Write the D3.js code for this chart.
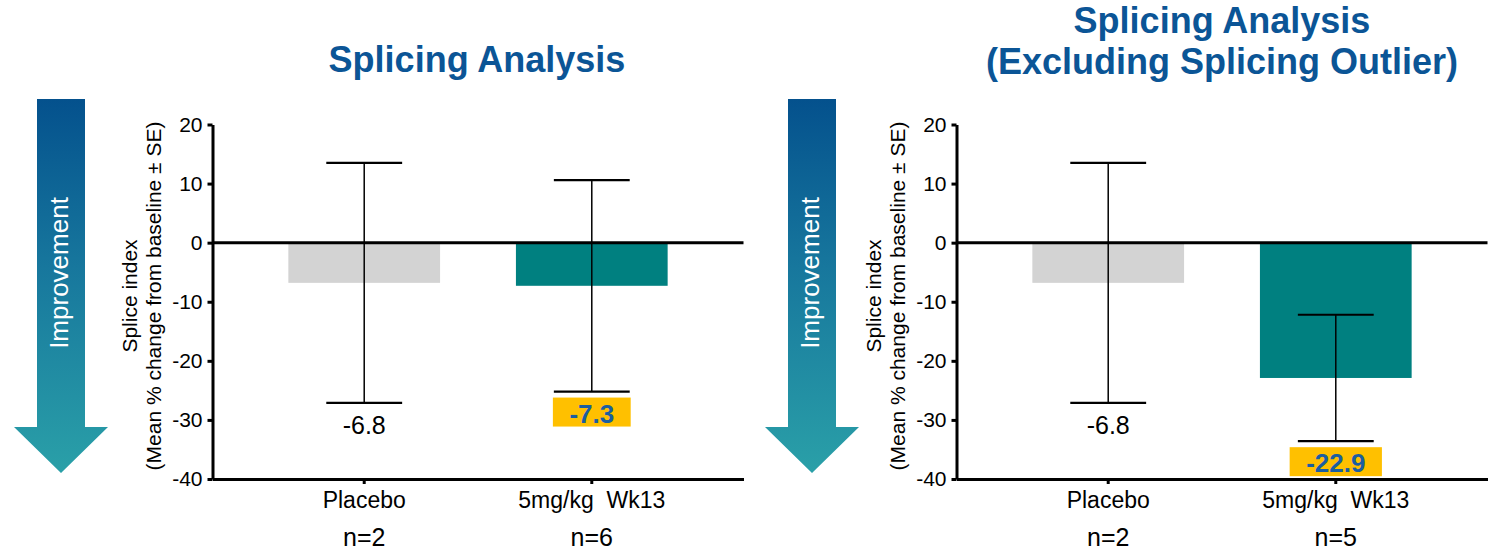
<!DOCTYPE html>
<html><head><meta charset="utf-8">
<script src="https://cdn.jsdelivr.net/npm/d3@7"></script>
<style>
body{margin:0;background:#fff}
svg{display:block}
text{font-family:Arial,"Liberation Sans",sans-serif}
</style>
</head><body><svg id="c" width="1501" height="550"></svg>
<script>
// ---- data ----
const categories = ["Placebo", "5mg/kg  Wk13"];
const leftMeans = [-6.8, -7.3];
const leftSE = [20.3, 17.9];
const leftN = ["n=2", "n=6"];
const rightMeans = [-6.8, -22.9];
const rightSE = [20.3, 10.7];
const rightN = ["n=2", "n=5"];
const highlight = [false, true];
const yTicks = [20, 10, 0, -10, -20, -30, -40];
const leftTitle = ["Splicing Analysis"];
const rightTitle = ["Splicing Analysis", "(Excluding Splicing Outlier)"];
const arrowLabel = "Improvement";
const yLabel = ["Splice index", "(Mean % change from baseline \u00B1 SE)"];

// ---- layout ----
const svg = d3.select("#c");
const defs = svg.append("defs");
const grad = defs.append("linearGradient").attr("id", "arrowGrad")
  .attr("x1", 0).attr("y1", 0).attr("x2", 0).attr("y2", 1);
grad.append("stop").attr("offset", "0%").attr("stop-color", "#04518d");
grad.append("stop").attr("offset", "45%").attr("stop-color", "#17779d");
grad.append("stop").attr("offset", "100%").attr("stop-color", "#2aa0a8");

const titleColor = "#0b5596";
const y = d3.scaleLinear().domain([-40, 20]).range([479, 124.5]);

const panels = [
  {x0: 212.5, x1: 743.5, means: leftMeans, se: leftSE, n: leftN, arrowCx: 61, titleCx: 477, title: leftTitle, titleBase: [71.5]},
  {x0: 956.5, x1: 1487.5, means: rightMeans, se: rightSE, n: rightN, arrowCx: 812, titleCx: 1222, title: rightTitle, titleBase: [33, 73.5]}
];

panels.forEach(p => {
  const g = svg.append("g");
  const x = d3.scaleBand().domain(categories).range([p.x0, p.x1])
    .paddingInner(1/3).paddingOuter(1/3);
  const bw = x.bandwidth();

  // title
  p.title.forEach((t, i) => {
    g.append("text").attr("x", p.titleCx).attr("y", p.titleBase[i])
      .attr("text-anchor", "middle").attr("font-size", 36).attr("font-weight", "bold")
      .attr("fill", titleColor)
      .text(t);
  });

  // improvement arrow
  const cx = p.arrowCx, sw = 24, hw = 47, top = 99, headY = 427, tip = 473;
  g.append("path")
    .attr("d", `M${cx - sw},${top}L${cx + sw},${top}L${cx + sw},${headY}L${cx + hw},${headY}L${cx},${tip}L${cx - hw},${headY}L${cx - sw},${headY}Z`)
    .attr("fill", "url(#arrowGrad)");
  g.append("text").attr("transform", `translate(${cx + 7},273) rotate(-90)`)
    .attr("text-anchor", "middle").attr("font-size", 26).attr("fill", "#fff")
    .text(arrowLabel);

  // y axis label
  const yl = g.append("text").attr("transform", `translate(${p.x0 - 75.5},296) rotate(-90)`)
    .attr("text-anchor", "middle").attr("font-size", 21).attr("fill", "#000");
  yl.append("tspan").attr("x", 0).attr("y", 0).text(yLabel[0]);
  yl.append("tspan").attr("x", 0).attr("y", 24).text(yLabel[1]);

  // bars
  const data = categories.map((c, i) => ({c, m: p.means[i], se: p.se[i], n: p.n[i], hl: highlight[i]}));
  g.selectAll("rect.bar").data(data).join("rect").attr("class", "bar")
    .attr("x", d => x(d.c)).attr("width", bw)
    .attr("y", y(0)).attr("height", d => y(d.m) - y(0))
    .attr("fill", (d, i) => i === 0 ? "#d3d3d3" : "#008080");

  // y axis
  const ya = g.append("g").attr("transform", `translate(${p.x0},0)`)
    .call(d3.axisLeft(y).tickValues(yTicks).tickFormat(d => String(d)).tickSize(5).tickSizeOuter(0).tickPadding(5));
  ya.select(".domain").attr("stroke-width", 3);
  ya.selectAll(".tick line").attr("stroke-width", 3);
  ya.selectAll(".tick text").attr("font-size", 21).attr("fill", "#000")
    .style("font-family", "Arial, 'Liberation Sans', sans-serif");

  // x axis
  const xa = g.append("g").attr("transform", `translate(0,${y(-40)})`)
    .call(d3.axisBottom(x).tickSize(5).tickSizeOuter(0).tickFormat(""));
  xa.select(".domain").attr("stroke-width", 3);
  xa.selectAll(".tick line").attr("stroke-width", 3);

  // zero line
  g.append("line").attr("x1", p.x0).attr("x2", p.x1).attr("y1", y(0)).attr("y2", y(0))
    .attr("stroke", "#000").attr("stroke-width", 3);

  // error bars
  const eb = g.selectAll("g.eb").data(data).join("g").attr("class", "eb");
  eb.append("line").attr("x1", d => x(d.c) + bw / 2).attr("x2", d => x(d.c) + bw / 2)
    .attr("y1", d => y(d.m + d.se)).attr("y2", d => y(d.m - d.se))
    .attr("stroke", "#000").attr("stroke-width", 1.5);
  [1, -1].forEach(s => {
    eb.append("line").attr("x1", d => x(d.c) + bw / 4).attr("x2", d => x(d.c) + 3 * bw / 4)
      .attr("y1", d => y(d.m + s * d.se)).attr("y2", d => y(d.m + s * d.se))
      .attr("stroke", "#000").attr("stroke-width", 2.2);
  });

  // value labels
  data.forEach(d => {
    const tx = x(d.c) + bw / 2, ty = y(d.m - d.se) + 31;
    if (d.hl) {
      const box = g.append("rect");
      const t = g.append("text").attr("x", tx).attr("y", ty).attr("text-anchor", "middle")
        .attr("font-size", 26).attr("font-weight", "bold").attr("fill", "#1b5ea0")
        .text(d.m.toFixed(1));
      const bb = t.node().getBBox();
      box.attr("x", bb.x - 16.5).attr("width", bb.width + 33)
        .attr("y", ty - 25).attr("height", 29).attr("fill", "#ffc000");
    } else {
      g.append("text").attr("x", tx).attr("y", ty).attr("text-anchor", "middle")
        .attr("font-size", 25).attr("fill", "#000").text(d.m.toFixed(1));
    }
  });

  // category labels and n
  g.selectAll("text.cat").data(data).join("text").attr("class", "cat")
    .attr("x", d => x(d.c) + bw / 2).attr("y", 507.5).attr("text-anchor", "middle")
    .attr("font-size", 23).attr("fill", "#000").style("white-space", "pre")
    .text(d => d.c);
  g.selectAll("text.n").data(data).join("text").attr("class", "n")
    .attr("x", d => x(d.c) + bw / 2).attr("y", 546).attr("text-anchor", "middle")
    .attr("font-size", 25).attr("fill", "#000")
    .text(d => d.n);
});
</script>
</body></html>
